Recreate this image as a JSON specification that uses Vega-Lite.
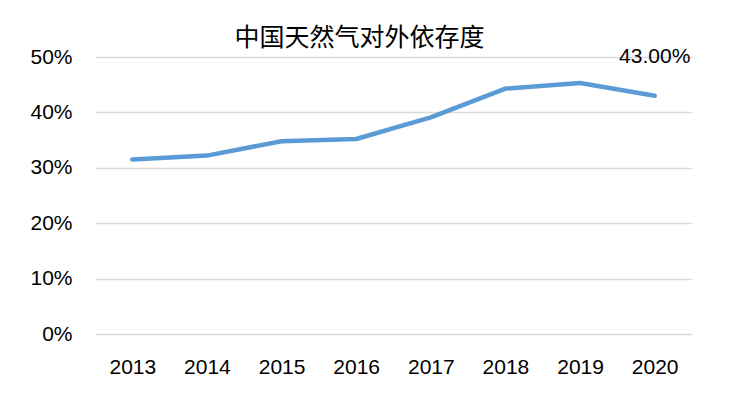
{
  "$schema": "https://vega.github.io/schema/vega-lite/v6.json",
  "autosize": {"type": "none"},
  "width": 597,
  "height": 277,
  "padding": {"left": 95, "top": 57, "right": 40, "bottom": 63},
  "background": "white",
  "title": {
    "text": "中国天然气对外依存度",
    "font": "Noto Sans CJK SC",
    "fontSize": 25,
    "fontWeight": "normal",
    "color": "#000000",
    "anchor": "middle",
    "dx": -34,
    "offset": -5
  },
  "data": {
    "values": [
      {"year": "2013", "value": 0.315},
      {"year": "2014", "value": 0.322},
      {"year": "2015", "value": 0.348},
      {"year": "2016", "value": 0.352},
      {"year": "2017", "value": 0.391},
      {"year": "2018", "value": 0.443},
      {"year": "2019", "value": 0.453},
      {"year": "2020", "value": 0.43, "label": "43.00%"}
    ]
  },
  "config": {
    "view": {"stroke": null},
    "axis": {
      "labelFont": "Liberation Sans",
      "labelFontSize": 21,
      "labelColor": "#000000",
      "domain": false,
      "ticks": false,
      "title": null
    }
  },
  "encoding": {
    "x": {
      "field": "year",
      "type": "ordinal",
      "scale": {"type": "point", "padding": 0.5},
      "axis": {"labelAngle": 0, "labelPadding": 22, "grid": false}
    },
    "y": {
      "field": "value",
      "type": "quantitative",
      "scale": {"domain": [0, 0.5]},
      "axis": {
        "format": ".0%",
        "values": [0, 0.1, 0.2, 0.3, 0.4, 0.5],
        "labelPadding": 23,
        "grid": true,
        "gridColor": "#d9d9d9",
        "gridWidth": 1.5
      }
    }
  },
  "layer": [
    {
      "mark": {"type": "line", "color": "#5B9BD5", "strokeWidth": 4.5, "strokeCap": "round", "strokeJoin": "round"}
    },
    {
      "transform": [{"filter": "datum.label != null"}],
      "mark": {"type": "text", "dy": -39, "font": "Liberation Sans", "fontSize": 21, "color": "#000000"},
      "encoding": {"text": {"field": "label"}}
    }
  ]
}
